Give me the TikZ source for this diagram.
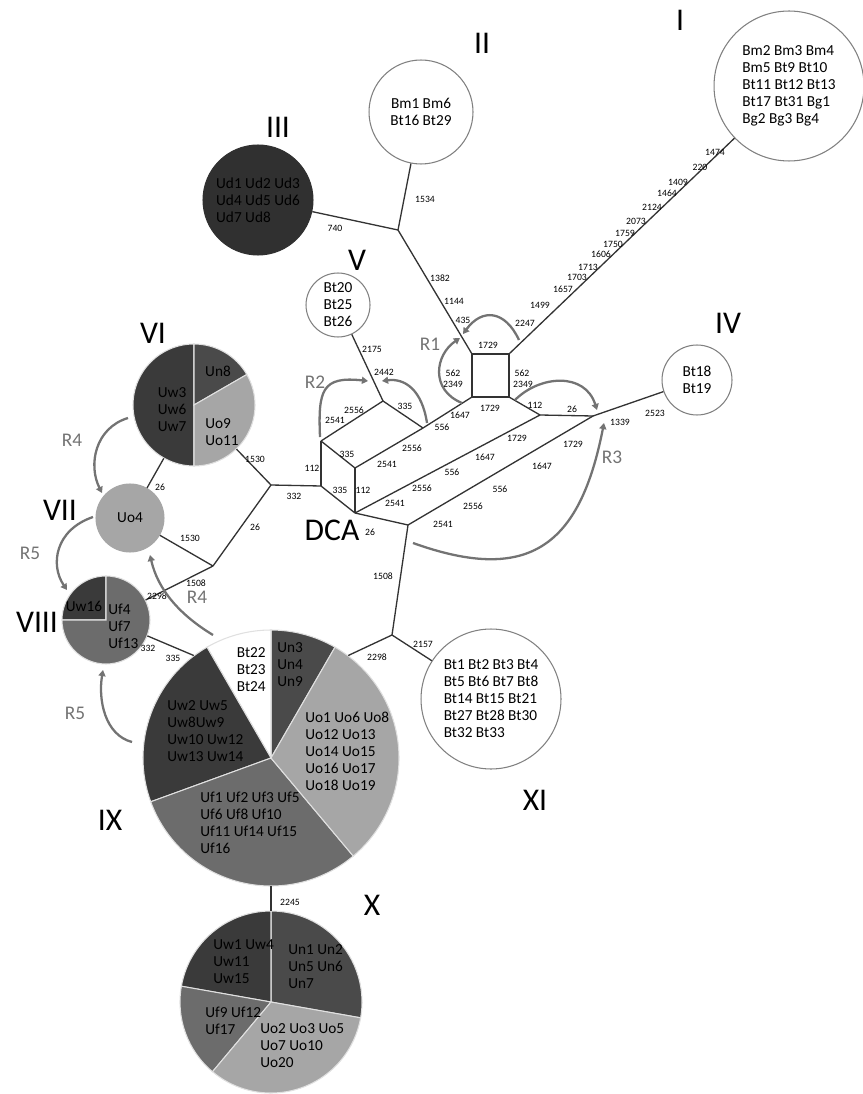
\documentclass[tikz,border=0pt]{standalone}
\usepackage{fontspec}
\setmainfont{Carlito}
\usetikzlibrary{arrows.meta}
\definecolor{uwcol}{HTML}{3A3A3A}
\definecolor{uncol}{HTML}{4A4A4A}
\definecolor{ufcol}{HTML}{6C6C6C}
\definecolor{uocol}{HTML}{A6A6A6}
\definecolor{udcol}{HTML}{303030}
\tikzset{
	hap/.style={
		circle,
		draw=black!50,
		line width=0.6pt,
		fill=white,
		text=black,
		inner sep=0pt,
		minimum size=#1,
		font=\fontsize{8.7}{9.7}\selectfont,
	},
	pie/.style={
		circle,
		inner sep=0pt,
		minimum size=#1,
	},
	net/.style={draw=black!80, line width=0.75pt},
	mut/.style={font=\fontsize{5.5}{6}\selectfont, inner sep=0pt},
	hlist/.style={font=\fontsize{8.7}{9.7}\selectfont, text=black, inner sep=0pt},
	clade/.style={font=\fontsize{18}{18}\selectfont, inner sep=0pt},
	recomb/.style={
		draw=black!55,
		line width=1.3pt,
		-{Triangle[angle=60:4pt 0]}
	},
	rlabel/.style={font=\fontsize{11}{11}\selectfont, text=black!55, inner sep=0pt},
}
\newcommand{\pieslice}[5]{%
	\filldraw[fill=#5, draw=black!12, line width=0.6pt] (#1.center) -- ++(#2:#4) arc[start angle=#2, end angle=#3, radius=#4] -- cycle;}

\begin{document}
\begin{tikzpicture}[x=0.02cm, y=0.02cm]
	\useasboundingbox (0,0) rectangle (862,-1094);

	% haplotype groups
	\node[hap=3cm, align=left]   (hI)   at (789,-86)  {Bm2 Bm3 Bm4\\Bm5 Bt9 Bt10\\Bt11 Bt12 Bt13\\Bt17 Bt31 Bg1\\Bg2 Bg3 Bg4};
	\node[hap=2.08cm, align=center] (hII)  at (421,-112) {Bm1 Bm6\\Bt16 Bt29};
	\node[hap=2.2cm, fill=udcol, draw=udcol, align=left] (hIII) at (258,-200) {Ud1 Ud2 Ud3\\Ud4 Ud5 Ud6\\Ud7 Ud8};
	\node[hap=1.4cm, align=center]  (hIV)  at (697,-380) {Bt18\\Bt19};
	\node[hap=1.28cm, align=center] (hV)   at (338,-305) {Bt20\\Bt25\\Bt26};
	\node[pie=2.44cm] (hVI)   at (194,-405) {};
	\node[hap=1.36cm, fill=uocol, draw=uocol] (hVII) at (130,-518) {Uo4};
	\node[pie=1.76cm] (hVIII) at (106,-620) {};
	\node[pie=5.12cm] (hIX)   at (271,-758) {};
	\node[pie=3.64cm] (hX)    at (271,-1002) {};
	\node[hap=2.8cm, align=left] (hXI) at (491,-699) {Bt1 Bt2 Bt3 Bt4\\Bt5 Bt6 Bt7 Bt8\\Bt14 Bt15 Bt21\\Bt27 Bt28 Bt30\\Bt32 Bt33};

	% pies
	\pieslice{hVI}{90}{270}{61}{uwcol}
	\pieslice{hVI}{30}{90}{61}{uncol}
	\pieslice{hVI}{-90}{30}{61}{uocol}
	\pieslice{hVIII}{90}{180}{44}{uwcol}
	\pieslice{hVIII}{180}{450}{44}{ufcol}
	\pieslice{hIX}{60}{90}{128}{uncol}
	\pieslice{hIX}{90}{120}{128}{white}
	\pieslice{hIX}{120}{200}{128}{uwcol}
	\pieslice{hIX}{200}{310}{128}{ufcol}
	\pieslice{hIX}{-50}{60}{128}{uocol}
	\pieslice{hX}{-10}{90}{91}{uncol}
	\pieslice{hX}{90}{170}{91}{uwcol}
	\pieslice{hX}{170}{230}{91}{ufcol}
	\pieslice{hX}{230}{350}{91}{uocol}

	\node[hlist, align=center] (tVIuw) at (172,-410) {Uw3\\Uw6\\Uw7};
	\node[hlist]               (tVIun) at (218,-371) {Un8};
	\node[hlist, align=left, anchor=west] (tVIuo) at (205,-432) {Uo9\\Uo11};
	\node[hlist]               (tVIIIuw) at (84,-606) {Uw16};
	\node[hlist, align=left, anchor=west] (tVIIIuf) at (108,-626) {Uf4\\Uf7\\Uf13};
	\node[hlist, align=right, anchor=east] (tIXbt) at (266,-670) {Bt22\\Bt23\\Bt24};
	\node[hlist, align=left, anchor=west] (tIXun) at (277,-665) {Un3\\Un4\\Un9};
	\node[hlist, align=left, anchor=west] (tIXuw) at (167,-731) {Uw2 Uw5\\Uw8Uw9\\Uw10 Uw12\\Uw13 Uw14};
	\node[hlist, align=left, anchor=west] (tIXuo) at (305,-751) {Uo1 Uo6 Uo8\\Uo12 Uo13\\Uo14 Uo15\\Uo16 Uo17\\Uo18 Uo19};
	\node[hlist, align=left, anchor=west] (tIXuf) at (200,-823) {Uf1 Uf2 Uf3 Uf5\\Uf6 Uf8 Uf10\\Uf11 Uf14 Uf15\\Uf16};
	\node[hlist, align=left, anchor=west] (tXuw) at (213,-962) {Uw1 Uw4\\Uw11\\Uw15};
	\node[hlist, align=left, anchor=west] (tXun) at (288,-967) {Un1 Un2\\Un5 Un6\\Un7};
	\node[hlist, align=left, anchor=west] (tXuf) at (205,-1021) {Uf9 Uf12\\Uf17};
	\node[hlist, align=left, anchor=west] (tXuo) at (260,-1046) {Uo2 Uo3 Uo5\\Uo7 Uo10\\Uo20};

	% median vectors
	\coordinate (jA) at (398,-230);
	\coordinate (sq1) at (472,-354);
	\coordinate (sq2) at (509,-354);
	\coordinate (sq3) at (509,-397);
	\coordinate (sq4) at (472,-397);
	\coordinate (jM) at (540,-415);
	\coordinate (jN) at (593,-416);
	\coordinate (jQ) at (383,-401);
	\coordinate (jP) at (423,-428);
	\coordinate (jS) at (321,-441);
	\coordinate (jT) at (355,-468);
	\coordinate (jU) at (321,-486);
	\coordinate (jD) at (355,-513);
	\coordinate (jK) at (408,-525);
	\coordinate (jL) at (392,-635);
	\coordinate (jW) at (271,-485);
	\coordinate (jY) at (213,-566);

	\draw[net] (hII) -- (jA);
	\draw[net] (hIII) -- (jA);
	\draw[net] (jA) -- (sq1);
	\draw[net] (hI) -- (sq2);
	\draw[net] (sq1) -- (sq2) -- (sq3) -- (sq4) -- cycle;
	\draw[net] (sq4) -- (jP);
	\draw[net] (sq3) -- (jM);
	\draw[net] (jM) -- (jN);
	\draw[net] (jN) -- (hIV);
	\draw[net] (hV) -- (jQ);
	\draw[net] (jQ) -- (jP);
	\draw[net] (jQ) -- (jS);
	\draw[net] (jP) -- (jT);
	\draw[net] (jS) -- (jU);
	\draw[net] (jS) -- (jT);
	\draw[net] (jT) -- (jD);
	\draw[net] (jU) -- (jD);
	\draw[net] (jU) -- (jW);
	\draw[net] (jW) -- (hVI);
	\draw[net] (jW) -- (jY);
	\draw[net] (jY) -- (hVII);
	\draw[net] (jY) -- (hVIII);
	\draw[net] (hVI) -- (hVII);
	\draw[net] (jD) -- (jM);
	\draw[net] (jD) -- (jK);
	\draw[net] (jK) -- (jN);
	\draw[net] (jK) -- (jL);
	\draw[net] (jL) -- (hIX.53);
	\draw[net] (jL) -- (hXI);
	\draw[net] (hVIII.-21) -- (hIX.127);
	\draw[net] (hIX) -- (hX);

	% mutations
	\node[mut] at (425,-199) {1534};
	\node[mut] at (335,-228) {740};
	\node[mut] at (440,-278) {1382};
	\node[mut] at (454,-301) {1144};
	\node[mut] at (463,-320) {435};
	\node[mut] at (715,-152) {1474};
	\node[mut] at (700,-167) {220};
	\node[mut] at (678,-182) {1409};
	\node[mut] at (667,-193) {1464};
	\node[mut] at (652,-207) {2124};
	\node[mut] at (636,-221) {2073};
	\node[mut] at (625,-233) {1759};
	\node[mut] at (613,-244) {1750};
	\node[mut] at (601,-254) {1606};
	\node[mut] at (588,-267) {1713};
	\node[mut] at (577,-277) {1703};
	\node[mut] at (563,-289) {1657};
	\node[mut] at (540,-305) {1499};
	\node[mut] at (525,-323) {2247};
	\node[mut] at (488,-345) {1729};
	\node[mut] at (453,-373) {562};
	\node[mut] at (453,-384) {2349};
	\node[mut] at (522,-373) {562};
	\node[mut] at (523,-384) {2349};
	\node[mut] at (490,-408) {1729};
	\node[mut] at (535,-405) {112};
	\node[mut] at (572,-409) {26};
	\node[mut] at (620,-422) {1339};
	\node[mut] at (655,-413) {2523};
	\node[mut] at (372,-349) {2175};
	\node[mut] at (384,-372) {2442};
	\node[mut] at (405,-406) {335};
	\node[mut] at (354,-410) {2556};
	\node[mut] at (335,-420) {2541};
	\node[mut] at (460,-415) {1647};
	\node[mut] at (442,-427) {556};
	\node[mut] at (412,-448) {2556};
	\node[mut] at (387,-464) {2541};
	\node[mut] at (312,-468) {112};
	\node[mut] at (347,-454) {335};
	\node[mut] at (363,-490) {112};
	\node[mut] at (340,-490) {335};
	\node[mut] at (294,-496) {332};
	\node[mut] at (255,-459) {1530};
	\node[mut] at (255,-527) {26};
	\node[mut] at (190,-538) {1530};
	\node[mut] at (196,-583) {1508};
	\node[mut] at (157,-596) {2298};
	\node[mut] at (160,-487) {26};
	\node[mut] at (517,-438) {1729};
	\node[mut] at (485,-457) {1647};
	\node[mut] at (452,-472) {556};
	\node[mut] at (422,-488) {2556};
	\node[mut] at (395,-503) {2541};
	\node[mut] at (573,-444) {1729};
	\node[mut] at (542,-466) {1647};
	\node[mut] at (500,-489) {556};
	\node[mut] at (473,-506) {2556};
	\node[mut] at (443,-524) {2541};
	\node[mut] at (370,-532) {26};
	\node[mut] at (383,-576) {1508};
	\node[mut] at (377,-657) {2298};
	\node[mut] at (423,-644) {2157};
	\node[mut] at (148,-648) {332};
	\node[mut] at (173,-658) {335};
	\node[mut] at (290,-902) {2245};

	% clade names
	\node[clade] (cI)    at (680,-20)  {I};
	\node[clade] (cII)   at (482,-43)  {II};
	\node[clade] (cIII)  at (278,-127) {III};
	\node[clade] (cIV)   at (728,-323) {IV};
	\node[clade] (cV)    at (357,-260) {V};
	\node[clade] (cVI)   at (153,-333) {VI};
	\node[clade] (cVII)  at (60,-510)  {VII};
	\node[clade] (cVIII) at (37,-622)  {VIII};
	\node[clade] (cIX)   at (110,-820) {IX};
	\node[clade] (cX)    at (372,-905) {X};
	\node[clade] (cXI)   at (535,-800) {XI};
	\node[clade] (dca)   at (332,-530) {DCA};

	% recombination
	\coordinate (r1a) at (519,-340);
	\coordinate (r1b) at (463,-334);
	\coordinate (r1c) at (462,-403);
	\coordinate (r1d) at (460,-338);
	\coordinate (r2a) at (320,-437);
	\coordinate (r2b) at (368,-381);
	\coordinate (r2c) at (427,-423);
	\coordinate (r2d) at (382,-381);
	\coordinate (r3a) at (515,-400);
	\coordinate (r3b) at (597,-410);
	\coordinate (r3c) at (413,-543);
	\coordinate (r3d) at (604,-423);
	\coordinate (r4a) at (128,-418);
	\coordinate (r4b) at (102,-493);
	\coordinate (r4c) at (213,-635);
	\coordinate (r4d) at (150,-555);
	\coordinate (r5a) at (93,-517);
	\coordinate (r5b) at (67,-590);
	\coordinate (r5c) at (132,-742);
	\coordinate (r5d) at (103,-670);

	\draw[recomb] (r1a) .. controls (505,-310) and (482,-308) .. (r1b);
	\draw[recomb] (r1c) .. controls (430,-390) and (435,-355) .. (r1d);
	\draw[recomb] (r2a) .. controls (318,-390) and (322,-376) .. (r2b);
	\draw[recomb] (r2c) .. controls (422,-390) and (405,-378) .. (r2d);
	\draw[recomb] (r3a) .. controls (540,-375) and (585,-372) .. (r3b);
	\draw[recomb] (r3c) .. controls (530,-585) and (580,-545) .. (r3d);
	\draw[recomb] (r4a) .. controls (95,-428) and (88,-465) .. (r4b);
	\draw[recomb] (r4c) .. controls (180,-615) and (158,-590) .. (r4d);
	\draw[recomb] (r5a) .. controls (55,-530) and (50,-565) .. (r5b);
	\draw[recomb] (r5c) .. controls (105,-735) and (98,-700) .. (r5d);

	\node[rlabel] (lR1)  at (430,-344) {R1};
	\node[rlabel] (lR2)  at (315,-382) {R2};
	\node[rlabel] (lR3)  at (612,-457) {R3};
	\node[rlabel] (lR4a) at (72,-440)  {R4};
	\node[rlabel] (lR4b) at (197,-597) {R4};
	\node[rlabel] (lR5a) at (30,-553)  {R5};
	\node[rlabel] (lR5b) at (75,-713)  {R5};
\end{tikzpicture}
\end{document}
